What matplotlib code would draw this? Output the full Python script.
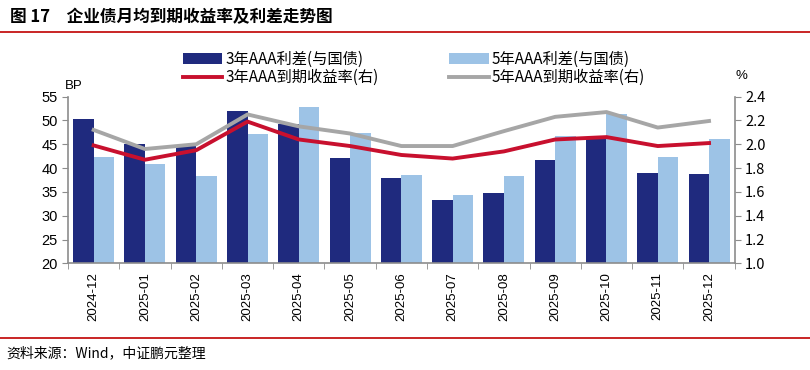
import matplotlib
matplotlib.use("Agg")
import matplotlib.pyplot as plt
import numpy as np

plt.rcParams['font.family'] = ['Noto Sans CJK SC', 'DejaVu Sans']

months = ["2024-12", "2025-01", "2025-02", "2025-03", "2025-04", "2025-05", "2025-06",
          "2025-07", "2025-08", "2025-09", "2025-10", "2025-11", "2025-12"]
spread_3y = [50.4, 45.0, 44.6, 52.0, 49.3, 42.1, 38.0, 33.3, 34.8, 41.6, 46.6, 38.9, 38.8]
spread_5y = [42.3, 40.9, 38.4, 47.1, 52.9, 47.3, 38.6, 34.4, 38.3, 46.8, 51.4, 42.3, 46.0]
ytm_3y = [1.99, 1.87, 1.95, 2.19, 2.04, 1.985, 1.91, 1.88, 1.94, 2.04, 2.06, 1.985, 2.01]
ytm_5y = [2.12, 1.96, 2.00, 2.25, 2.15, 2.09, 1.985, 1.985, 2.11, 2.23, 2.27, 2.14, 2.195]
left_ticks = [20, 25, 30, 35, 40, 45, 50, 55]
right_ticks = [1.0, 1.2, 1.4, 1.6, 1.8, 2.0, 2.2, 2.4]

navy = "#1f2a7e"
lightblue = "#9dc3e6"
red = "#c8102e"
grey = "#a6a6a6"
axcol = "#8c8c8c"

fig = plt.figure(figsize=(8.1, 3.7), dpi=100)

# title + rules
fig.text(0.012, 0.955, "图 17　企业债月均到期收益率及利差走势图", fontsize=12,
         fontweight="bold", va="center", ha="left")
fig.add_artist(plt.Line2D([0, 1], [0.913, 0.913], color="#c00000", lw=1.2))
fig.add_artist(plt.Line2D([0, 1], [0.087, 0.087], color="#c00000", lw=1.2))
fig.text(0.008, 0.045, "资料来源：Wind，中证鹏元整理", fontsize=10, va="center", ha="left")

ax = fig.add_axes([0.084, 0.288, 0.823, 0.451])
x = np.arange(len(months))
w = 0.4
b1 = ax.bar(x - w / 2, spread_3y, width=w, color=navy, label="3年AAA利差(与国债)")
b2 = ax.bar(x + w / 2, spread_5y, width=w, color=lightblue, label="5年AAA利差(与国债)")
ax.set_ylim(20, 55)
ax.set_xlim(-0.5, len(months) - 0.5)
ax.set_yticks(left_ticks)
ax.set_yticklabels([str(t) for t in left_ticks], fontsize=10.5, family="Liberation Sans")
ax.set_xticks(x)
ax.set_xticklabels(months, rotation=90, fontsize=9.5, family="Liberation Sans")
ax.set_xticks(np.arange(-0.5, len(months), 1), minor=True)
ax.tick_params(axis="x", which="major", length=0, pad=6)
ax.tick_params(axis="x", which="minor", length=4, color=axcol, direction="out")
ax.tick_params(axis="y", length=4, color=axcol, direction="out")
for s in ["top", "right"]:
    ax.spines[s].set_visible(False)
for s in ["left", "bottom"]:
    ax.spines[s].set_color(axcol)
    ax.spines[s].set_linewidth(1.2)

ax2 = ax.twinx()
l1, = ax2.plot(x, ytm_3y, color=red, lw=2.8, label="3年AAA到期收益率(右)")
l2, = ax2.plot(x, ytm_5y, color=grey, lw=2.8, label="5年AAA到期收益率(右)")
ax2.set_ylim(1.0, 2.4)
ax2.set_yticks(right_ticks)
ax2.set_yticklabels(["%.1f" % t for t in right_ticks], fontsize=10.5)
ax2.tick_params(axis="y", length=4, color=axcol, direction="out")
for s in ["top", "left", "bottom"]:
    ax2.spines[s].set_visible(False)
ax2.spines["right"].set_color(axcol)
ax2.spines["right"].set_linewidth(1.2)

fig.text(0.080, 0.768, "BP", fontsize=9.5, family="Liberation Sans", va="center")
fig.text(0.908, 0.795, "%", fontsize=9.5, family="Liberation Sans", va="center")

fig.legend([b1, l1, b2, l2],
           ["3年AAA利差(与国债)", "3年AAA到期收益率(右)", "5年AAA利差(与国债)", "5年AAA到期收益率(右)"],
           ncol=2, loc="center", bbox_to_anchor=(0.511, 0.815), frameon=False,
           fontsize=11, handlelength=2.6, handleheight=0.7, columnspacing=4.6,
           labelspacing=0.1, handletextpad=0.2)

fig.savefig("out.png", dpi=100)
